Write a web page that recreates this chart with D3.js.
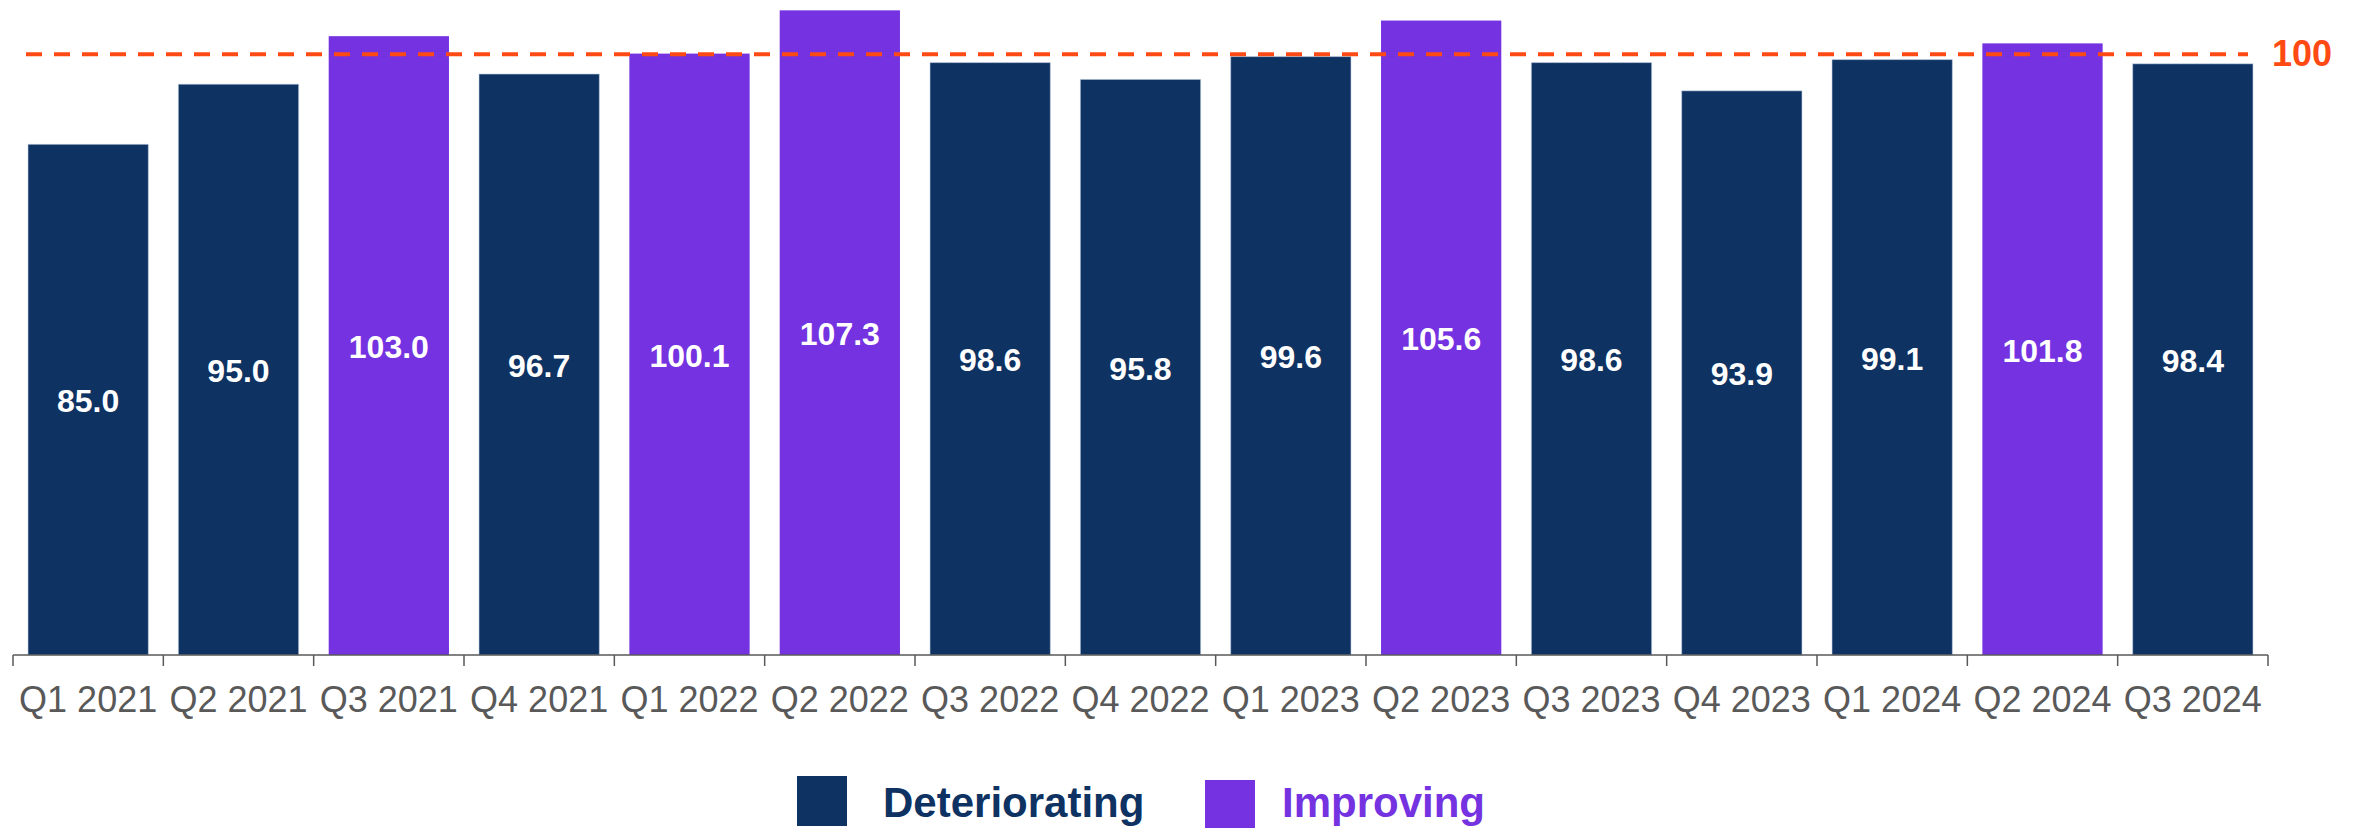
<!DOCTYPE html>
<html>
<head>
<meta charset="utf-8">
<script src="https://cdn.jsdelivr.net/npm/d3@7"></script>
<style>
  html, body { margin: 0; padding: 0; background: #ffffff; }
  svg { display: block; }
</style>
</head>
<body>
<svg id="chart" width="2361" height="828"></svg>
<script>
// Quarterly index values (100 = neutral)
const quarters = ["Q1 2021","Q2 2021","Q3 2021","Q4 2021","Q1 2022","Q2 2022","Q3 2022","Q4 2022",
                  "Q1 2023","Q2 2023","Q3 2023","Q4 2023","Q1 2024","Q2 2024","Q3 2024"];
const values = [85.0, 95.0, 103.0, 96.7, 100.1, 107.3, 98.6, 95.8, 99.6, 105.6, 98.6, 93.9, 99.1, 101.8, 98.4];
const status = ["Deteriorating","Deteriorating","Improving","Deteriorating","Improving","Improving","Deteriorating","Deteriorating",
                "Deteriorating","Improving","Deteriorating","Deteriorating","Deteriorating","Improving","Deteriorating"];
const categories = ["Deteriorating", "Improving"];
const referenceValue = 100;

const colors = { "Deteriorating": "#0e3262", "Improving": "#7532e1" };

const svg = d3.select("#chart");
const fontFamily = "'Liberation Sans', Arial, Helvetica, sans-serif";

const x = d3.scaleBand()
  .domain(quarters)
  .range([13, 2268])
  .paddingInner(0.2)
  .paddingOuter(0.1);

const y = d3.scaleLinear()
  .domain([0, 100])
  .range([655, 54.2]);

const data = quarters.map((q, i) => ({ q, v: values[i], s: status[i] }));

// Bars
svg.append("g")
  .selectAll("rect")
  .data(data)
  .join("rect")
  .attr("x", d => x(d.q))
  .attr("y", d => y(d.v))
  .attr("width", x.bandwidth())
  .attr("height", d => y(0) - y(d.v))
  .attr("fill", d => colors[d.s])
  .attr("stroke", d => d.s === "Deteriorating" ? "rgba(190,205,225,0.55)" : "none")
  .attr("stroke-width", 1);

// Value labels in the middle of each bar
const labelSize = 32;
svg.append("g")
  .selectAll("text")
  .data(data)
  .join("text")
  .attr("x", d => x(d.q) + x.bandwidth() / 2)
  .attr("y", d => (y(d.v) + y(0)) / 2 + labelSize * 0.716 / 2 + 1)
  .attr("text-anchor", "middle")
  .attr("font-family", fontFamily)
  .attr("font-weight", "bold")
  .attr("font-size", labelSize)
  .attr("fill", "#ffffff")
  .text(d => d.v.toFixed(1));

// Reference line at 100
const refY = y(referenceValue);
svg.append("line")
  .attr("x1", 26).attr("x2", 2248)
  .attr("y1", refY).attr("y2", refY)
  .attr("stroke", "#ff4a14")
  .attr("stroke-width", 4)
  .attr("stroke-dasharray", "16,12");

svg.append("text")
  .attr("x", 2272)
  .attr("y", refY + 12)
  .attr("font-family", fontFamily)
  .attr("font-weight", "bold")
  .attr("font-size", 36)
  .attr("fill", "#ff4a14")
  .text(referenceValue);

// X axis: baseline, boundary ticks and category labels
const axisColor = "#595959";
const step = x.step();
const axisG = svg.append("g");
axisG.append("line")
  .attr("x1", x.range()[0]).attr("x2", x.range()[1])
  .attr("y1", y(0)).attr("y2", y(0))
  .attr("stroke", axisColor)
  .attr("stroke-width", 1.5);

const boundaries = quarters.map(q => x(q) - step * x.paddingInner() / 2);
boundaries.push(x(quarters[quarters.length - 1]) + x.bandwidth() + step * x.paddingInner() / 2);
axisG.selectAll("line.tick")
  .data(boundaries)
  .join("line")
  .attr("class", "tick")
  .attr("x1", d => d).attr("x2", d => d)
  .attr("y1", y(0)).attr("y2", y(0) + 11)
  .attr("stroke", axisColor)
  .attr("stroke-width", 1.5);

axisG.selectAll("text")
  .data(quarters)
  .join("text")
  .attr("x", d => x(d) + x.bandwidth() / 2)
  .attr("y", 712)
  .attr("text-anchor", "middle")
  .attr("font-family", fontFamily)
  .attr("font-size", 36)
  .attr("fill", axisColor)
  .text(d => d);

// Legend
const legendItems = [
  { name: categories[0], rx: 797, ry: 776, tx: 883 },
  { name: categories[1], rx: 1205, ry: 780, tx: 1282 }
];
const legend = svg.append("g");
legend.selectAll("rect")
  .data(legendItems)
  .join("rect")
  .attr("x", d => d.rx)
  .attr("y", d => d.ry)
  .attr("width", 50)
  .attr("height", 50)
  .attr("fill", d => colors[d.name]);

legend.selectAll("text")
  .data(legendItems)
  .join("text")
  .attr("x", d => d.tx)
  .attr("y", 817)
  .attr("font-family", fontFamily)
  .attr("font-weight", "bold")
  .attr("font-size", 42)
  .attr("fill", d => colors[d.name])
  .text(d => d.name);
</script>
</body>
</html>
